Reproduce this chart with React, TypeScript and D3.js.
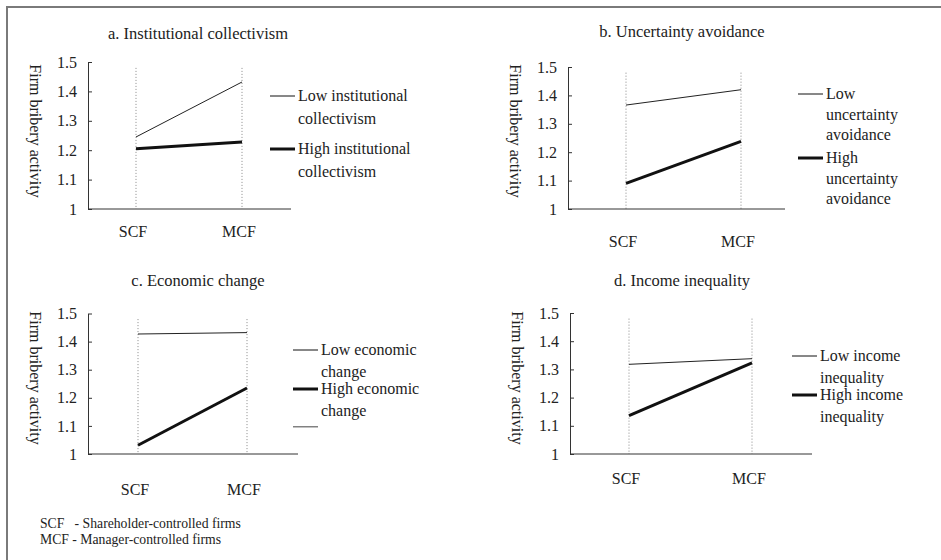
import React, { useRef, useEffect } from "react";
import * as d3 from "d3";

const categories = ["SCF", "MCF"];
const yTicks = [1, 1.1, 1.2, 1.3, 1.4, 1.5];

const panelTitles = [
  "a. Institutional collectivism",
  "b. Uncertainty avoidance",
  "c. Economic change",
  "d. Income inequality",
];

const collectivismLow = [1.245, 1.432];
const collectivismHigh = [1.205, 1.228];
const uncertaintyLow = [1.366, 1.42];
const uncertaintyHigh = [1.09, 1.238];
const economicLow = [1.427, 1.432];
const economicHigh = [1.031, 1.235];
const incomeLow = [1.318, 1.338];
const incomeHigh = [1.136, 1.323];

const legendLow = [
  ["Low institutional", "collectivism"],
  ["Low", "uncertainty", "avoidance"],
  ["Low economic", "change"],
  ["Low income", "inequality"],
];
const legendHigh = [
  ["High institutional", "collectivism"],
  ["High", "uncertainty", "avoidance"],
  ["High economic", "change"],
  ["High income", "inequality"],
];

const footnotes = ["SCF   - Shareholder-controlled firms", "MCF - Manager-controlled firms"];

const series = [
  [collectivismLow, collectivismHigh],
  [uncertaintyLow, uncertaintyHigh],
  [economicLow, economicHigh],
  [incomeLow, incomeHigh],
];

// layout of each small chart (pixels)
const layout = [
  { left: 88, right: 291, y0: 209, y1: 62, scf: 136, mcf: 242, titleX: 198, titleY: 39, labelY: 237, labelMid: 131, legX: 270, lowY: 96, highY: 149, lh: 22.5, extra: false },
  { left: 568, right: 785, y0: 209, y1: 67, scf: 626, mcf: 741, titleX: 682, titleY: 37, labelY: 247, labelMid: 131, legX: 798, lowY: 94, highY: 158, lh: 20.5, extra: false },
  { left: 88, right: 298, y0: 454, y1: 313.5, scf: 138, mcf: 247, titleX: 198, titleY: 286, labelY: 495, labelMid: 378, legX: 293, lowY: 350, highY: 389, lh: 21.5, extra: true },
  { left: 570, right: 812, y0: 454, y1: 313, scf: 629, mcf: 752, titleX: 682, titleY: 286, labelY: 484, labelMid: 378, legX: 792, lowY: 356, highY: 395, lh: 21.5, extra: false },
];

const FONT = "Liberation Serif";

export default function App() {
  const svgRef = useRef<SVGSVGElement | null>(null);

  useEffect(() => {
    const svg = d3.select(svgRef.current);
    svg.selectAll("*").remove();

    // frame
    svg.append("line").attr("x1", 6).attr("x2", 941).attr("y1", 7).attr("y2", 7)
      .attr("stroke", "#7a7a7a").attr("stroke-width", 2);
    svg.append("line").attr("x1", 7).attr("x2", 7).attr("y1", 6).attr("y2", 560)
      .attr("stroke", "#7a7a7a").attr("stroke-width", 2);

    layout.forEach((p, i) => {
      const g = svg.append("g").style("font-family", FONT).attr("fill", "#222");
      const x = d3.scalePoint<string>().domain(categories).range([p.scf, p.mcf]);
      const y = d3.scaleLinear().domain([1, 1.5]).range([p.y0, p.y1]);

      g.append("text")
        .attr("x", p.titleX).attr("y", p.titleY)
        .attr("text-anchor", "middle").attr("font-size", 16.5).attr("fill", "#222")
        .text(panelTitles[i]);

      // dotted category guides
      categories.forEach((c) => {
        g.append("line")
          .attr("x1", x(c)!).attr("x2", x(c)!)
          .attr("y1", y(1.48)).attr("y2", y(1))
          .attr("stroke", "#888").attr("stroke-width", 1)
          .attr("stroke-dasharray", "1,2");
      });

      // y axis
      const ax = g.append("g")
        .attr("transform", `translate(${p.left},0)`)
        .call(
          d3.axisLeft(y).tickValues(yTicks).tickSize(-4).tickSizeOuter(0)
            .tickPadding(11).tickFormat(d3.format("~g"))
        );
      ax.attr("font-family", null).attr("font-size", null);
      ax.select(".domain").attr("stroke", "#333");
      ax.selectAll(".tick line").attr("stroke", "#333");
      ax.selectAll(".tick text").style("font-family", FONT).attr("font-size", 16).attr("fill", "#222");

      // x axis
      g.append("line")
        .attr("x1", p.left).attr("x2", p.right).attr("y1", y(1)).attr("y2", y(1))
        .attr("stroke", "#333").attr("stroke-width", 1);
      categories.forEach((c) => {
        g.append("text")
          .attr("x", x(c)! - 3).attr("y", p.labelY)
          .attr("text-anchor", "middle").attr("font-size", 16).attr("fill", "#222")
          .text(c);
      });

      // y label
      g.append("text")
        .attr("transform", `translate(${p.left - 58},${p.labelMid}) rotate(90)`)
        .attr("text-anchor", "middle").attr("font-size", 16).attr("fill", "#222")
        .text("Firm bribery activity");

      // lines
      const line = d3.line<number>()
        .x((_, k) => x(categories[k])!)
        .y((d) => y(d));
      const [low, high] = series[i];
      g.append("path").datum(low).attr("d", line)
        .attr("fill", "none").attr("stroke", "#222").attr("stroke-width", 1);
      g.append("path").datum(high).attr("d", line)
        .attr("fill", "none").attr("stroke", "#111").attr("stroke-width", 3);

      // legend
      const entries = [
        { rows: legendLow[i], y: p.lowY, w: 1 },
        { rows: legendHigh[i], y: p.highY, w: 3 },
      ];
      entries.forEach((e) => {
        g.append("line")
          .attr("x1", p.legX).attr("x2", p.legX + 25).attr("y1", e.y).attr("y2", e.y)
          .attr("stroke", "#111").attr("stroke-width", e.w);
        e.rows.forEach((r, k) => {
          g.append("text")
            .attr("x", p.legX + 28).attr("y", e.y + k * p.lh).attr("dy", "0.33em")
            .attr("font-size", 16).attr("fill", "#222")
            .text(r);
        });
      });
      if (p.extra) {
        const ey = p.highY + (p.highY - p.lowY) * 0.97;
        g.append("line")
          .attr("x1", p.legX).attr("x2", p.legX + 25).attr("y1", ey).attr("y2", ey)
          .attr("stroke", "#444").attr("stroke-width", 1);
      }
    });

    footnotes.forEach((t, k) => {
      svg.append("text")
        .attr("x", 40).attr("y", 528 + k * 16)
        .style("font-family", FONT).attr("font-size", 13.7).attr("fill", "#222")
        .style("white-space", "pre")
        .text(t);
    });
  }, []);

  return (
    <svg
      ref={svgRef}
      width={941}
      height={560}
      style={{ position: "absolute", left: 0, top: 0, background: "#fff" }}
    />
  );
}
